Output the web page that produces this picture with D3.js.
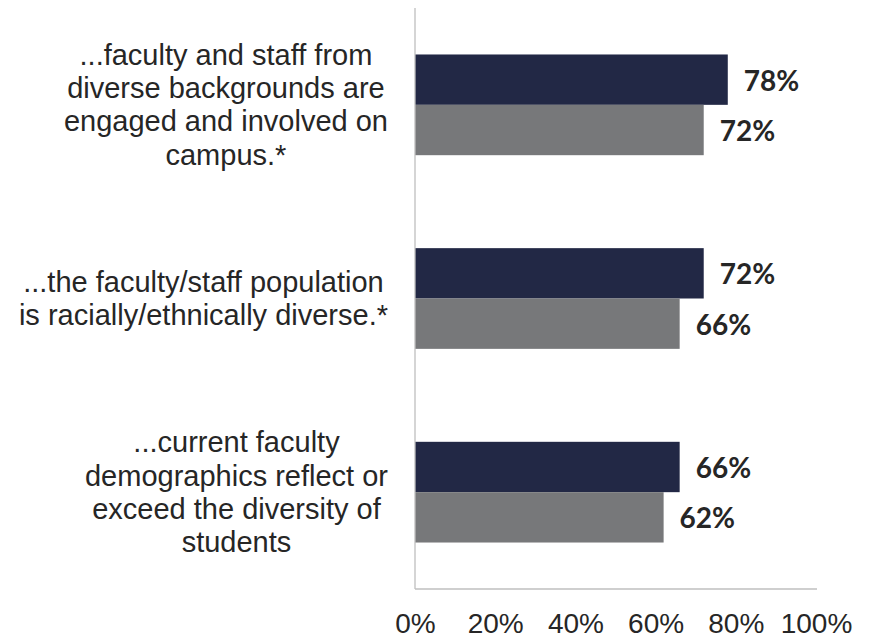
<!DOCTYPE html>
<html>
<head>
<meta charset="utf-8">
<script src="https://cdn.jsdelivr.net/npm/d3@7/dist/d3.min.js"></script>
<style>
  html, body { margin: 0; padding: 0; background: #ffffff; }
  svg { display: block; }
</style>
</head>
<body>
<svg id="chart" width="869" height="635"></svg>
<script>
// ---- data ----
const categories = [
  ["...faculty and staff from", "diverse backgrounds are", "engaged and involved on", "campus.*"],
  ["...the faculty/staff population", "is racially/ethnically diverse.*"],
  ["...current faculty", "demographics reflect or", "exceed the diversity of", "students"]
];
const seriesNames = ["Series A", "Series B"];
const seriesA = [0.78, 0.72, 0.66];
const seriesB = [0.72, 0.66, 0.62];
const tickValues = [0, 0.2, 0.4, 0.6, 0.8, 1.0];
const tickLabels = ["0%", "20%", "40%", "60%", "80%", "100%"];

// ---- layout ----
const svg = d3.select("#chart");
const colors = ["#222845", "#77787a"];
const axisColor = "#bfbfbf";
const textColor = "#262626";

const x = d3.scaleLinear().domain([0, 1]).range([415, 816]);
const y = d3.scaleBand()
  .domain(d3.range(categories.length))
  .range([8, 589])
  .paddingInner(0.48)
  .paddingOuter(0.24);
const ySub = d3.scaleBand().domain(seriesNames).range([0, y.bandwidth()]);

const rows = categories.map((c, i) => ({ i, values: [seriesA[i], seriesB[i]] }));

// bars
const g = svg.append("g");
const groups = g.selectAll("g.grp").data(rows).join("g")
  .attr("class", "grp")
  .attr("transform", d => `translate(0,${y(d.i)})`);

groups.selectAll("rect").data(d => d.values.map((v, k) => ({ v, k }))).join("rect")
  .attr("x", x(0))
  .attr("y", d => ySub(seriesNames[d.k]))
  .attr("width", d => x(d.v) - x(0))
  .attr("height", ySub.bandwidth())
  .attr("fill", d => colors[d.k]);

groups.selectAll("text.val").data(d => d.values.map((v, k) => ({ v, k }))).join("text")
  .attr("class", "val")
  .attr("x", d => x(d.v) + 16)
  .attr("y", d => ySub(seriesNames[d.k]) + ySub.bandwidth() / 2 + 11)
  .attr("font-family", "Lato, sans-serif")
  .attr("font-weight", "bold")
  .attr("font-size", "28px")
  .attr("fill", textColor)
  .text(d => d3.format(".0%")(d.v));

// axes lines
svg.append("line")
  .attr("x1", x(0)).attr("x2", x(0))
  .attr("y1", y.range()[0]).attr("y2", y.range()[1])
  .attr("stroke", axisColor).attr("stroke-width", 1.3);
svg.append("line")
  .attr("x1", x(0)).attr("x2", x(1) + 1)
  .attr("y1", y.range()[1]).attr("y2", y.range()[1])
  .attr("stroke", axisColor).attr("stroke-width", 1.3);

// x tick labels
const xAxis = d3.axisBottom(x).tickValues(tickValues)
  .tickFormat((d, i) => tickLabels[i]).tickSize(0).tickPadding(0);
const xg = svg.append("g").attr("transform", "translate(0,589)").call(xAxis);
xg.select(".domain").remove();
xg.selectAll("text")
  .attr("font-family", "Liberation Sans, Arial, sans-serif")
  .attr("font-size", "28px")
  .attr("fill", textColor)
  .attr("dy", null)
  .attr("y", 44);

// category labels
const lineH = 33.3;
const labelRight = 388;
const lg = svg.append("g");
categories.forEach((lines, i) => {
  const cy = y(i) + y.bandwidth() / 2;
  const t = lg.append("text")
    .attr("font-family", "Liberation Sans, Arial, sans-serif")
    .attr("font-size", "29px")
    .attr("fill", textColor)
    .attr("text-anchor", "middle");
  const first = cy - (lines.length - 1) * lineH / 2 + 10;
  const tsp = t.selectAll("tspan").data(lines).join("tspan")
    .attr("y", (d, k) => first + k * lineH)
    .text(d => d);
  let maxW = 0;
  tsp.each(function () { maxW = Math.max(maxW, this.getComputedTextLength()); });
  tsp.attr("x", labelRight - maxW / 2);
});
</script>
</body>
</html>
